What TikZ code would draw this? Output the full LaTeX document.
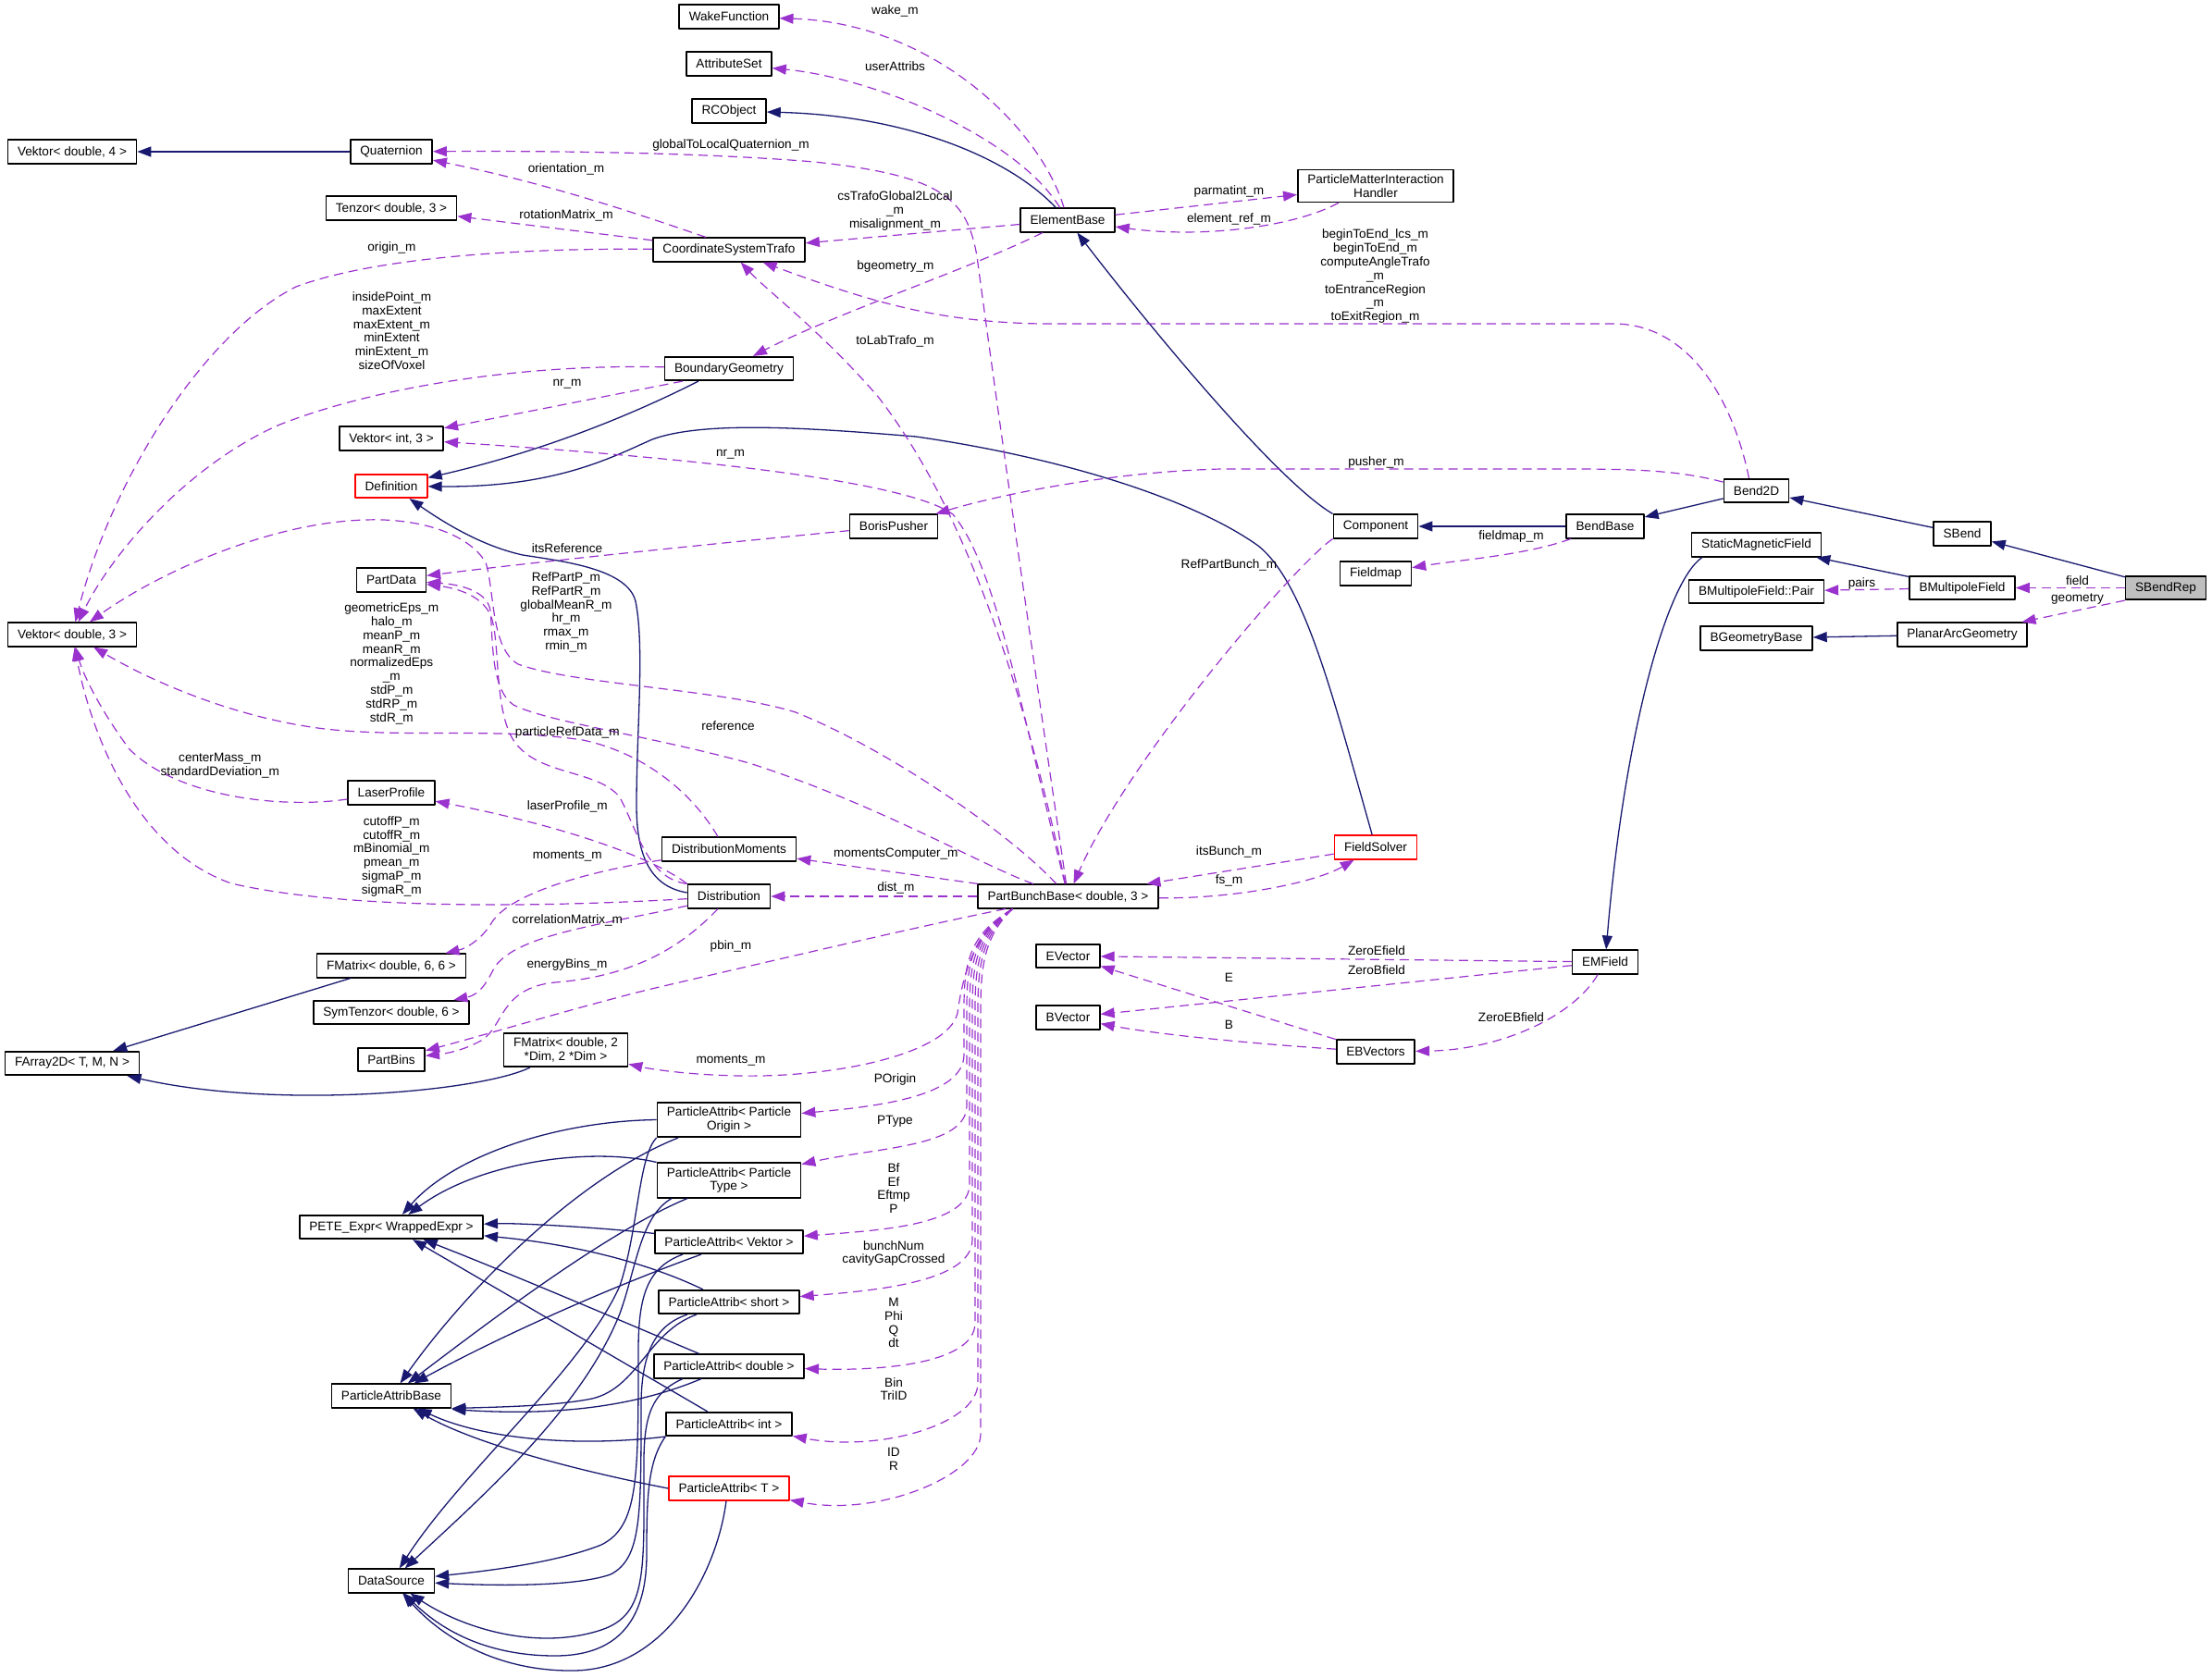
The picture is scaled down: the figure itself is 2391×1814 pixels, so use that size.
\documentclass[tikz,border=0pt]{standalone}
\usepackage{fontspec}
\setmainfont{Liberation Sans}
\usetikzlibrary{arrows.meta}
\definecolor{inhblue}{HTML}{191970}
\definecolor{usepurple}{HTML}{9A32CD}

\begin{document}
\begin{tikzpicture}[x=1pt,y=-1pt,line join=round,
  font=\fontsize{13.6}{14.8}\selectfont,
  cls/.style={draw=black,line width=1.6pt,fill=white,minimum height=25.5pt,inner xsep=10.5pt,inner ysep=5pt,align=center},
  clsred/.style={cls,draw=red},
  inh/.style={inhblue,line width=1.3pt,-{Triangle[length=15pt,width=11pt]}},
  use/.style={usepurple,line width=1.2pt,dash pattern=on 10pt off 6pt,-{Triangle[length=15pt,width=11pt]}},
  lbl/.style={align=center,inner sep=0pt}]
\useasboundingbox (0,0) rectangle (2391,1814);

\node[cls] (wake) at (788,18) {WakeFunction};
\node[cls] (attr) at (788,69) {AttributeSet};
\node[cls] (rco) at (788,120) {RCObject};
\node[cls] (vekdf) at (78,164) {Vektor< double, 4 >};
\node[cls] (quat) at (423,164) {Quaternion};
\node[cls] (tenz) at (423,225) {Tenzor< double, 3 >};
\node[cls] (cst) at (788,270) {CoordinateSystemTrafo};
\node[cls] (elem) at (1154,238) {ElementBase};
\node[cls] (pmih) at (1487,201) {ParticleMatterInteraction\\Handler};
\node[cls] (bgeo) at (788,398.5) {BoundaryGeometry};
\node[cls] (veki) at (423,474) {Vektor< int, 3 >};
\node[clsred] (defn) at (423,525.5) {Definition};
\node[cls] (boris) at (966,569) {BorisPusher};
\node[cls] (comp) at (1487,569) {Component};
\node[cls] (fmap) at (1487,620) {Fieldmap};
\node[cls] (bend) at (1898.5,530.5) {Bend2D};
\node[cls] (bbase) at (1735,569) {BendBase};
\node[cls] (sbend) at (2121,577) {SBend};
\node[cls] (smf) at (1898.5,589) {StaticMagneticField};
\node[cls] (pair) at (1898.5,639.5) {BMultipoleField::Pair};
\node[cls] (bmf) at (2121,635.5) {BMultipoleField};
\node[cls,fill=black!25] (sbrep) at (2341,635.5) {SBendRep};
\node[cls] (bgb) at (1898.5,690) {BGeometryBase};
\node[cls] (pag) at (2121,686) {PlanarArcGeometry};
\node[cls] (emf) at (1735,1040) {EMField};
\node[cls] (pdata) at (423,627) {PartData};
\node[cls] (vekdt) at (78,686) {Vektor< double, 3 >};
\node[cls] (laser) at (423,857) {LaserProfile};
\node[cls] (dmom) at (788,918) {DistributionMoments};
\node[cls] (dist) at (788,969) {Distribution};
\node[cls] (pbb) at (1154.5,969) {PartBunchBase< double, 3 >};
\node[clsred] (fsol) at (1487,916) {FieldSolver};
\node[cls] (fmsix) at (423,1044) {FMatrix< double, 6, 6 >};
\node[cls] (symt) at (423,1094.5) {SymTenzor< double, 6 >};
\node[cls] (pbins) at (423,1145.5) {PartBins};
\node[cls] (farr) at (78,1149.5) {FArray2D< T, M, N >};
\node[cls] (fmdim) at (611.5,1135) {FMatrix< double, 2\\ {*}Dim, 2 *Dim >};
\node[cls] (evec) at (1154.5,1033.5) {EVector};
\node[cls] (bvec) at (1154.5,1100) {BVector};
\node[cls] (ebvec) at (1487,1137) {EBVectors};
\node[cls] (paorig) at (788,1210.5) {ParticleAttrib< Particle\\Origin >};
\node[cls] (patype) at (788,1276) {ParticleAttrib< Particle\\Type >};
\node[cls] (pavek) at (788,1342.5) {ParticleAttrib< Vektor >};
\node[cls] (pashort) at (788,1407.5) {ParticleAttrib< short >};
\node[cls] (padbl) at (788,1477) {ParticleAttrib< double >};
\node[cls] (paint) at (788,1539.5) {ParticleAttrib< int >};
\node[clsred] (pat) at (788,1609) {ParticleAttrib< T >};
\node[cls] (pete) at (423,1326.5) {PETE\_Expr< WrappedExpr >};
\node[cls] (pabase) at (423,1509) {ParticleAttribBase};
\node[cls] (dsrc) at (423,1709) {DataSource};

\draw[inh] (quat) -- (vekdf);
\draw[inh] (elem) .. controls (1090,170) and (980,125) .. (rco);
\draw[inh] (comp.north west) .. controls (1380,520) and (1240,350) .. (elem);
\draw[inh] (bbase) -- (comp);
\draw[inh] (bend) -- (bbase);
\draw[inh] (sbend) -- (bend);
\draw[inh] (sbrep) -- (sbend);
\draw[inh] (bmf) -- (smf);
\draw[inh] ([xshift=12pt]smf.south west) .. controls (1800,630) and (1755,800) .. (emf);
\draw[inh] (pag) -- (bgb);
\draw[inh] ([xshift=-33pt]bgeo.south) .. controls (700,440) and (600,485) .. (defn);
\draw[inh] (fsol) .. controls (1440,750) and (1410,630) .. (1360,590) .. controls (1290,540) and (1150,495) .. (990,472) .. controls (870,462) and (760,455) .. (705,475) .. controls (660,495) and (600,527) .. (defn);
\draw[inh] ([yshift=4pt]dist.west) .. controls (700,958) and (688,920) .. (688,870) .. controls (688,790) and (697,700) .. (687,650) .. controls (678,615) and (610,607) .. (565,600) .. controls (520,590) and (480,565) .. (defn);
\draw[inh] (fmsix) -- (farr);
\draw[inh] (fmdim) .. controls (520,1180) and (300,1200) .. (farr);

\draw[inh] (paorig.west) .. controls (600,1212) and (490,1250) .. (pete);
\draw[inh] (patype.north west) .. controls (640,1240) and (520,1255) .. (pete);
\draw[inh] (pavek) .. controls (650,1327) and (560,1322) .. (pete);
\draw[inh] (pashort) .. controls (700,1365) and (620,1345) .. (pete);
\draw[inh] (padbl) .. controls (700,1440) and (560,1380) .. (pete);
\draw[inh] (paint) -- (pete);
\draw[inh] ([xshift=-55pt]paorig.south) .. controls (620,1275) and (500,1400) .. (pabase);
\draw[inh] ([xshift=-45pt]patype.south) .. controls (660,1330) and (540,1420) .. (pabase);
\draw[inh] ([xshift=-30pt]pavek.south) .. controls (650,1395) and (530,1450) .. (pabase);
\draw[inh] ([xshift=-35pt]pashort.south) .. controls (700,1440) and (690,1500) .. (640,1512) .. controls (600,1520) and (540,1521) .. (pabase.south east);
\draw[inh] ([xshift=-30pt]padbl.south) .. controls (700,1515) and (620,1532) .. ([yshift=-1pt]pabase.south east);
\draw[inh] (paint.south west) .. controls (620,1565) and (520,1555) .. (pabase);
\draw[inh] (pat.west) .. controls (650,1595) and (520,1565) .. (pabase);
\draw[inh] (paorig.south west) .. controls (690,1250) and (690,1330) .. (670,1390) .. controls (630,1480) and (500,1590) .. (dsrc);
\draw[inh] ([xshift=-62pt]patype.south) .. controls (692,1315) and (688,1370) .. (670,1420) .. controls (630,1520) and (530,1610) .. (dsrc);
\draw[inh] ([xshift=-50pt]pavek.south) .. controls (700,1370) and (690,1400) .. (690,1460) .. controls (690,1600) and (690,1650) .. (650,1670) .. controls (600,1690) and (520,1699) .. (dsrc);
\draw[inh] ([xshift=-45pt]pashort.south) .. controls (710,1432) and (693,1460) .. (693,1520) .. controls (693,1640) and (693,1685) .. (660,1702) .. controls (620,1716) and (530,1714) .. (dsrc);
\draw[inh] ([xshift=-50pt]padbl.south) .. controls (705,1505) and (696,1530) .. (696,1580) .. controls (696,1700) and (700,1745) .. (650,1762) .. controls (580,1785) and (500,1760) .. (dsrc);
\draw[inh] (paint.south west) .. controls (700,1580) and (699,1620) .. (699,1680) .. controls (699,1760) and (660,1790) .. (600,1790) .. controls (530,1790) and (480,1765) .. (dsrc);
\draw[inh] ([xshift=-3pt]pat.south) .. controls (775,1700) and (720,1805) .. (620,1806) .. controls (540,1807) and (480,1772) .. (dsrc);

\draw[use] (elem) .. controls (1125,140) and (1010,25) .. (wake);
\draw[use] (elem) .. controls (1100,150) and (950,85) .. (attr);
\draw[use] (pbb) .. controls (1115,700) and (1075,420) .. (1056,277) .. controls (1045,215) and (1020,190) .. (880,175) .. controls (760,165) and (600,163) .. (quat);
\draw[use] ([xshift=-25pt]cst.north) .. controls (700,235) and (600,200) .. (quat);
\draw[use] (cst) -- (tenz);
\draw[use] (cst) .. controls (550,268) and (400,280) .. (320,310) .. controls (220,360) and (120,520) .. (vekdt);
\draw[use] (elem) -- (cst);
\draw[use] (elem) -- (pmih);
\draw[use] ([xshift=-40pt]pmih.south) .. controls (1400,245) and (1300,258) .. (elem);
\draw[use] (elem) .. controls (1050,290) and (900,340) .. (bgeo);
\draw[use] ([xshift=-8pt]bend.north) .. controls (1875,440) and (1830,350) .. (1744,350) -- (1125,350) .. controls (1020,348) and (950,330) .. (cst);
\draw[use] (pbb) .. controls (1110,760) and (1050,560) .. (950,430) .. controls (890,360) and (830,315) .. (cst);
\draw[use] (bgeo) .. controls (560,393) and (400,420) .. (300,460) .. controls (200,505) and (120,600) .. (vekdt);
\draw[use] ([xshift=-50pt]bgeo.south) -- (veki);
\draw[use] (pbb) .. controls (1100,750) and (1075,610) .. (1030,556) .. controls (980,520) and (750,495) .. (veki);
\draw[use] (bend) .. controls (1820,510) and (1780,507) .. (1700,507) -- (1320,507) .. controls (1200,510) and (1080,535) .. (boris);
\draw[use] (boris) .. controls (800,585) and (600,605) .. (pdata);
\draw[use] (pbb) .. controls (1060,935) and (950,870) .. (810,825) .. controls (700,795) and (590,780) .. (555,762) .. controls (530,745) and (533,690) .. (530,660) .. controls (527,640) and (500,632) .. (pdata);
\draw[use] (pbb) .. controls (1090,900) and (960,810) .. (860,770) .. controls (780,745) and (620,740) .. (560,718) .. controls (530,700) and (535,640) .. (525,608) .. controls (505,575) and (450,560) .. (395,562) .. controls (290,565) and (170,620) .. (vekdt);
\draw[use] (dist.north west) .. controls (700,950) and (690,900) .. (670,862) .. controls (645,830) and (575,840) .. (552,795) .. controls (535,760) and (540,700) .. (532,670) .. controls (525,645) and (495,636) .. (pdata);
\draw[use] ([xshift=-12pt]dmom.north) .. controls (750,860) and (700,815) .. (630,800) .. controls (530,785) and (420,800) .. (330,785) .. controls (250,772) and (170,740) .. (vekdt);
\draw[use] (laser) .. controls (300,875) and (190,860) .. (140,810) .. controls (110,770) and (90,730) .. (vekdt);
\draw[use] (dist) .. controls (600,980) and (380,985) .. (250,955) .. controls (150,920) and (100,800) .. (vekdt);
\draw[use] (dist.north west) .. controls (710,930) and (620,895) .. (laser);
\draw[use] (dmom) .. controls (620,945) and (545,970) .. (530,1000) .. controls (520,1015) and (505,1025) .. (fmsix);
\draw[use] (dist) .. controls (650,1000) and (560,1010) .. (535,1045) .. controls (527,1060) and (520,1075) .. (symt);
\draw[use] ([xshift=-12pt]dist.south) .. controls (740,1020) and (690,1055) .. (600,1062) .. controls (540,1068) and (545,1110) .. (520,1125) .. controls (505,1133) and (490,1138) .. (pbins);
\draw[use] (pbb) .. controls (1000,1000) and (850,1035) .. (700,1070) .. controls (620,1090) and (520,1120) .. (pbins);
\draw[use] ([xshift=-60pt]pbb.south) .. controls (1050,1010) and (1040,1060) .. (1035,1095) .. controls (1025,1140) and (900,1165) .. (800,1163) .. controls (740,1162) and (700,1155) .. (fmdim);
\draw[use] (pbb) -- (dmom);
\draw[use] (pbb) -- (dist);
\draw[use] (pbb) .. controls (1330,972) and (1420,955) .. (fsol);
\draw[use] (fsol) -- (pbb);
\draw[use] (comp.south west) .. controls (1400,610) and (1220,820) .. (pbb);
\draw[use] (bbase) .. controls (1650,600) and (1580,605) .. (fmap);
\draw[use] (sbrep) -- (bmf);
\draw[use] (sbrep.south west) -- (pag);
\draw[use] (bmf) -- (pair);
\draw[use] (emf) -- (evec);
\draw[use] (emf) -- (bvec);
\draw[use] (emf) .. controls (1700,1100) and (1620,1135) .. (ebvec);
\draw[use] (ebvec) -- (evec);
\draw[use] (ebvec) .. controls (1350,1128) and (1250,1118) .. (bvec);
\foreach \nd/\x/\yb/\cy in {paorig/1042/1140/1196,patype/1045/1195/1240,pavek/1048/1280/1330,pashort/1051/1340/1395,padbl/1054/1430/1482,paint/1057/1495/1570,pat/1060/1550/1640}
  \draw[use] ([xshift=-60pt]pbb.south) .. controls (\x+6,1010) and (\x,1040) .. (\x,1090) -- (\x,\yb) .. controls (\x,\yb+45) and (950,\cy) .. (\nd);

\node[lbl] (lwake) at (967.5,12) {wake\_m};
\node[lbl] (luser) at (967.5,71.5) {userAttribs};
\node[lbl] (lgtlq) at (790,157) {globalToLocalQuaternion\_m};
\node[lbl] (lorient) at (612,183) {orientation\_m};
\node[lbl] (lrot) at (612,232.5) {rotationMatrix\_m};
\node[lbl] (lorigin) at (423.5,267.5) {origin\_m};
\node[lbl] (lcstrafo) at (967.5,227.7) {csTrafoGlobal2Local\\\_m\\misalignment\_m};
\node[lbl] (lparmat) at (1328.5,207) {parmatint\_m};
\node[lbl] (lelref) at (1328.5,236.5) {element\_ref\_m};
\node[lbl] (lbgeom) at (968,288) {bgeometry\_m};
\node[lbl] (lbegin) at (1486.5,298.7) {beginToEnd\_lcs\_m\\beginToEnd\_m\\computeAngleTrafo\\\_m\\toEntranceRegion\\\_m\\toExitRegion\_m};
\node[lbl] (llab) at (967.5,368.5) {toLabTrafo\_m};
\node[lbl] (linside) at (423.5,357.7) {insidePoint\_m\\maxExtent\\maxExtent\_m\\minExtent\\minExtent\_m\\sizeOfVoxel};
\node[lbl] (lnrbg) at (613,415.5) {nr\_m};
\node[lbl] (lnrpbb) at (789.5,490.7) {nr\_m};
\node[lbl] (lpusher) at (1487.5,499.8) {pusher\_m};
\node[lbl] (litsref) at (613,592.5) {itsReference};
\node[lbl] (lrefpart) at (612,662) {RefPartP\_m\\RefPartR\_m\\globalMeanR\_m\\hr\_m\\rmax\_m\\rmin\_m};
\node[lbl] (lrefbunch) at (1328.5,611) {RefPartBunch\_m};
\node[lbl] (lfieldmap) at (1633.5,580) {fieldmap\_m};
\node[lbl] (lgeoeps) at (423.3,717.3) {geometricEps\_m\\halo\_m\\meanP\_m\\meanR\_m\\normalizedEps\\\_m\\stdP\_m\\stdRP\_m\\stdR\_m};
\node[lbl] (lreference) at (787,785) {reference};
\node[lbl] (lpartref) at (613.3,791.7) {particleRefData\_m};
\node[lbl] (lcenter) at (237.8,828) {centerMass\_m\\standardDeviation\_m};
\node[lbl] (llaser) at (613.3,871.7) {laserProfile\_m};
\node[lbl] (lcutoff) at (423.3,925.8) {cutoffP\_m\\cutoffR\_m\\mBinomial\_m\\pmean\_m\\sigmaP\_m\\sigmaR\_m};
\node[lbl] (lmomsix) at (613.3,925) {moments\_m};
\node[lbl] (lmomcomp) at (968.3,923.3) {momentsComputer\_m};
\node[lbl] (ldist) at (968.3,960) {dist\_m};
\node[lbl] (litsbunch) at (1328.5,921) {itsBunch\_m};
\node[lbl] (lfs) at (1328.5,951.7) {fs\_m};
\node[lbl] (lcorr) at (613.3,995) {correlationMatrix\_m};
\node[lbl] (lpbin) at (790,1023) {pbin\_m};
\node[lbl] (lenergy) at (613,1042.6) {energyBins\_m};
\node[lbl] (lzeroe) at (1488,1027.6) {ZeroEfield};
\node[lbl] (lzerob) at (1488,1048.6) {ZeroBfield};
\node[lbl] (le) at (1328.5,1056.5) {E};
\node[lbl] (lzeroeb) at (1633.5,1100) {ZeroEBfield};
\node[lbl] (lb) at (1328.5,1108) {B};
\node[lbl] (lmomdim) at (790,1146.6) {moments\_m};
\node[lbl] (lporigin) at (967.5,1167) {POrigin};
\node[lbl] (lptype) at (967.5,1212) {PType};
\node[lbl] (lvek) at (966,1284.5) {Bf\\Ef\\Eftmp\\P};
\node[lbl] (lshort) at (966,1355) {bunchNum\\cavityGapCrossed};
\node[lbl] (ldbl) at (966,1430) {M\\Phi\\Q\\dt};
\node[lbl] (lint) at (966,1501.5) {Bin\\TriID};
\node[lbl] (lt) at (966,1577.5) {ID\\R};
\node[lbl] (lfield) at (2245.5,627.4) {field};
\node[lbl] (lgeometry) at (2245.5,647.5) {geometry};
\node[lbl] (lpairs) at (2012.5,630.8) {pairs};
\end{tikzpicture}
\end{document}
